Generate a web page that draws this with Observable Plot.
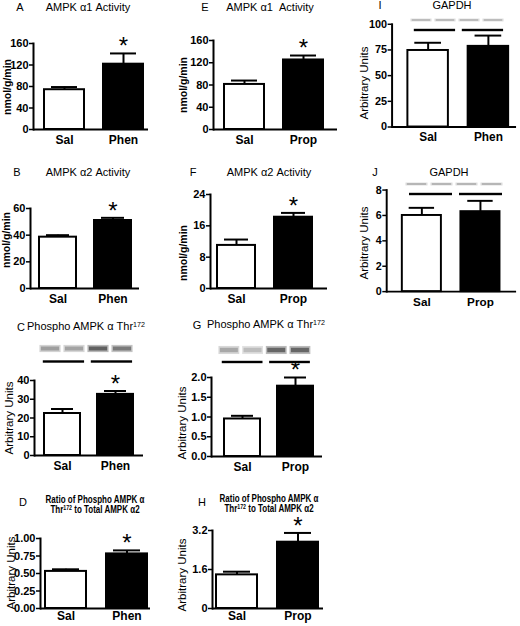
<!DOCTYPE html>
<html><head><meta charset="utf-8">
<script src="https://cdn.jsdelivr.net/npm/d3@7"></script>
<script src="https://cdn.jsdelivr.net/npm/@observablehq/plot@0.6"></script>
<style>
html,body{margin:0;padding:0;background:#fff;}
#fig{position:relative;width:520px;height:626px;overflow:hidden;font-family:"Liberation Sans",Arial,sans-serif;color:#000;}
.box{position:absolute;}
.t{position:absolute;white-space:nowrap;transform:translate(-50%,-50%);font-size:11px;line-height:1;}
.lt{position:absolute;white-space:nowrap;transform:translate(-50%,-50%);font-size:11px;line-height:1;}
.t2{position:absolute;white-space:nowrap;transform:translate(-50%,-50%) scaleX(0.8);font-family:"Liberation Sans",Arial,sans-serif;font-weight:bold;font-size:10px;line-height:9.5px;text-align:center;}
.ylab{position:absolute;white-space:nowrap;transform:translate(-50%,-50%) rotate(-90deg);font-size:11.5px;line-height:1;}
.ylab.b{font-weight:bold;font-size:10.5px;}
sup{font-size:0.65em;vertical-align:0;position:relative;top:-0.45em;}
</style></head><body><div id="fig"></div>
<script>
// ---------- data ----------
const salPhen = ["Sal", "Phen"];
const salProp = ["Sal", "Prop"];
const significant = [false, true];
const notSignificant = [false, false];

// A: AMPK α1 activity (phenylephrine)
const a1PhenMean = [74, 121.5];
const a1PhenErr = [5, 20];
// B: AMPK α2 activity (phenylephrine)
const a2PhenMean = [38.5, 51];
const a2PhenErr = [1.5, 2];
// C: phospho AMPK α Thr172 (phenylephrine)
const pPhenMean = [22.4, 32.6];
const pPhenErr = [2.4, 1.8];
// D: ratio phospho / total α2 (phenylephrine)
const ratioPhenMean = [0.53, 0.78];
const ratioPhenErr = [0.03, 0.05];
// E: AMPK α1 activity (propranolol)
const a1PropMean = [81, 125];
const a1PropErr = [7, 8];
// F: AMPK α2 activity (propranolol)
const a2PropMean = [11, 18.2];
const a2PropErr = [1.5, 1.1];
// G: phospho AMPK α Thr172 (propranolol)
const pPropMean = [0.95, 1.78];
const pPropErr = [0.08, 0.22];
// H: ratio phospho / total α2 (propranolol)
const ratioPropMean = [1.38, 2.72];
const ratioPropErr = [0.13, 0.38];
// I: GAPDH (phenylephrine)
const gapdhPhenMean = [74.5, 78.5];
const gapdhPhenErr = [7.5, 10.5];
// J: GAPDH (propranolol)
const gapdhPropMean = [6.0, 6.3];
const gapdhPropErr = [0.6, 0.85];

// tick values
const ticksA = [0, 40, 80, 120, 160];
const ticksB = [0, 20, 40, 60];
const ticksC = [0, 10, 20, 30, 40];
const ticksD = [0, 0.25, 0.5, 0.75, 1.0];
const ticksE = [0, 40, 80, 120, 160];
const ticksF = [0, 8, 16, 24];
const ticksG = [0, 0.5, 1.0, 1.5, 2.0];
const ticksH = [0, 1.6, 3.2];
const ticksI = [0, 25, 50, 75, 100];
const ticksJ = [0, 2, 4, 6, 8];

// western blot lanes (band darkness 0..1)
const blotLanes = [1, 2, 3, 4];
const blotGroups = [{label: "Sal", from: 1, to: 2}, {label: "Treat", from: 3, to: 4}];
const blotC = [0.38, 0.36, 0.62, 0.52];
const blotG = [0.34, 0.26, 0.6, 0.6];
const blotI = [0.3, 0.3, 0.3, 0.3];
const blotJ = [0.32, 0.32, 0.32, 0.32];

// ---------- drawing ----------
const fig = document.getElementById("fig");
const FONT = "Liberation Sans, Arial, sans-serif";

function html(cls, x, y, content) {
  const d = document.createElement("div");
  d.className = cls;
  d.style.left = x + "px";
  d.style.top = y + "px";
  d.innerHTML = content;
  fig.appendChild(d);
}

function barPanel(o) {
  const mL = 34, mR = 4, mT = 18, mB = 24;
  const rows = o.groups.map((g, i) => ({
    g, m: o.mean[i], hi: o.mean[i] + o.err[i], fill: i === 0 ? "white" : "black", star: o.star[i]
  }));
  const W = o.R - o.L + mL + mR, H = o.B - o.T + mT + mB;
  const svg = Plot.plot({
    width: W, height: H,
    marginLeft: mL, marginRight: mR, marginTop: mT, marginBottom: mB,
    style: {background: "transparent", overflow: "visible", fontFamily: FONT, color: "black"},
    x: {type: "band", domain: o.groups, range: [o.bars[0] - o.L + mL, o.bars[1] - o.L + mL], paddingInner: 0.33, paddingOuter: 0, label: null},
    y: {domain: [0, o.ticks[o.ticks.length - 1]], label: null},
    color: {type: "identity"},
    marks: [
      Plot.ruleX(rows, {x: "g", y1: "m", y2: "hi", strokeWidth: 2}),
      Plot.tickY(rows, {x: "g", y: "hi", strokeWidth: 2, insetLeft: 7, insetRight: 7}),
      Plot.barY(rows, {x: "g", y: "m", fill: "fill", stroke: "black", strokeWidth: 2}),
      Plot.text(rows.filter(d => d.star), {x: "g", y: "hi", text: () => "*", fontSize: 24, lineAnchor: "middle", dy: -7}),
      Plot.ruleY([0], {strokeWidth: 2}),
      Plot.frame({anchor: "left", strokeWidth: 2}),
      Plot.axisY({ticks: o.ticks, tickFormat: o.fmt, tickSize: 4, tickPadding: 1, fontSize: 11, fontWeight: "bold", label: null, strokeWidth: 1.5}),
      Plot.axisX({tickSize: 0, tickPadding: o.xpad ?? 6, fontSize: 12, fontWeight: "bold", label: null})
    ]
  });
  const box = document.createElement("div");
  box.className = "box";
  box.style.left = (o.L - mL) + "px";
  box.style.top = (o.T - mT) + "px";
  box.appendChild(svg);
  fig.appendChild(box);
}

function blotPanel(o) {
  // o.x0: left edge, o.step: px per lane, o.yBand: center of bands, o.yLine: center of underline
  const W = o.step * 4, rowH = o.yLine - o.yBand, H = rowH * 2;
  const lanes = blotLanes.map((l, i) => ({lane: l, d: o.dens[i]}));
  const grey = v => { const c = Math.round(255 * (1 - v)); return `rgb(${c},${c},${c})`; };
  const svg = Plot.plot({
    width: W, height: H, margin: 0,
    style: {background: "transparent", overflow: "visible"},
    x: {domain: [0.5, 4.5], axis: null},
    y: {type: "band", domain: ["band", "line"], padding: 0, axis: null},
    color: {type: "identity"},
    marks: [
      Plot.barX(lanes, {x1: d => d.lane - 0.44, x2: d => d.lane + 0.44, y: () => "band",
        fill: d => grey(d.d * 0.45), insetTop: rowH / 2 - o.bandH * 0.9, insetBottom: rowH / 2 - o.bandH * 0.9}),
      Plot.barX(lanes, {x1: d => d.lane - 0.38, x2: d => d.lane + 0.38, y: () => "band",
        fill: d => grey(d.d), insetTop: rowH / 2 - o.bandH / 2, insetBottom: rowH / 2 - o.bandH / 2}),
      Plot.barX(blotGroups, {x1: d => d.from - 0.3, x2: d => d.to + 0.42, y: () => "line",
        fill: "black", insetTop: rowH / 2 - 1.2, insetBottom: rowH / 2 - 1.2})
    ]
  });
  svg.querySelectorAll('g[aria-label="bar"]').forEach((g, i) => { if (i < 2) g.style.filter = "blur(0.7px)"; });
  const box = document.createElement("div");
  box.className = "box";
  box.style.left = o.x0 + "px";
  box.style.top = (o.yBand - rowH / 2) + "px";
  box.appendChild(svg);
  fig.appendChild(box);
}

const f2 = d => d.toFixed(2), f1 = d => d.toFixed(1), f0 = d => String(d);

// Column 1 (phenylephrine)
barPanel({groups: salPhen, mean: a1PhenMean, err: a1PhenErr, star: significant, ticks: ticksA, fmt: f0, L: 33, T: 43, B: 129, R: 148, bars: [43, 143]});
html("lt", 20, 7, "A"); html("t", 88, 7, "AMPK α1 Activity"); html("ylab b", 7, 87, "nmol/g/min");

barPanel({groups: salPhen, mean: a2PhenMean, err: a2PhenErr, star: significant, ticks: ticksB, fmt: f0, L: 30, T: 208, B: 288, R: 139, bars: [38, 131]});
html("lt", 17, 172, "B"); html("t", 88, 172, "AMPK α2 Activity"); html("ylab b", 6, 240, "nmol/g/min");

blotPanel({x0: 38, step: 24, yBand: 348, yLine: 361, bandH: 4, dens: blotC});
barPanel({groups: salPhen, mean: pPhenMean, err: pPhenErr, star: significant, ticks: ticksC, fmt: f0, L: 34, T: 380, B: 455, R: 143, bars: [43, 133]});
html("lt", 21, 327, "C"); html("t", 86, 327, "Phospho AMPK α Thr<sup>172</sup>"); html("ylab", 10, 418, "Arbitrary Units");

barPanel({groups: salPhen, mean: ratioPhenMean, err: ratioPhenErr, star: significant, ticks: ticksD, fmt: f2, L: 40, T: 538, B: 608, R: 150, bars: [44, 147], xpad: 3});
html("lt", 23, 502, "D"); html("t2", 95, 505, "Ratio of Phospho AMPK α<br>Thr<sup>172</sup> to Total AMPK α2"); html("ylab", 12, 573, "Arbitrary Units");

// Column 2 (propranolol)
barPanel({groups: salProp, mean: a1PropMean, err: a1PropErr, star: significant, ticks: ticksE, fmt: f0, L: 213, T: 40, B: 129, R: 337, bars: [224, 323]});
html("lt", 205, 7, "E"); html("t", 270, 7, "AMPK α1&nbsp; Activity"); html("ylab b", 183, 85, "nmol/g/min");

barPanel({groups: salProp, mean: a2PropMean, err: a2PropErr, star: significant, ticks: ticksF, fmt: f0, L: 210, T: 194, B: 288, R: 327, bars: [217, 313]});
html("lt", 193, 172, "F"); html("t", 269, 172, "AMPK α2 Activity"); html("ylab b", 183, 253, "nmol/g/min");

blotPanel({x0: 217, step: 23.7, yBand: 350, yLine: 362, bandH: 4.5, dens: blotG});
barPanel({groups: salProp, mean: pPropMean, err: pPropErr, star: significant, ticks: ticksG, fmt: f1, L: 211, T: 377, B: 456, R: 322, bars: [223, 313]});
html("lt", 197, 325, "G"); html("t", 266, 325, "Phospho AMPK α Thr<sup>172</sup>"); html("ylab", 183, 423, "Arbitrary Units");

barPanel({groups: salProp, mean: ratioPropMean, err: ratioPropErr, star: significant, ticks: ticksH, fmt: f0, L: 212, T: 530, B: 608, R: 323, bars: [215, 318], xpad: 3});
html("lt", 202, 502, "H"); html("t2", 269, 504, "Ratio of Phospho AMPK α<br>Thr<sup>172</sup> to Total AMPK α2"); html("ylab", 183, 575, "Arbitrary Units");

// Column 3 (GAPDH loading controls)
blotPanel({x0: 409, step: 24, yBand: 20, yLine: 30, bandH: 1.6, dens: blotI});
barPanel({groups: salPhen, mean: gapdhPhenMean, err: gapdhPhenErr, star: notSignificant, ticks: ticksI, fmt: f0, L: 392, T: 24, B: 128, R: 518, bars: [408, 510]});
html("lt", 380, 5, "I"); html("t", 452, 5, "GAPDH"); html("ylab", 365, 83, "Arbitrary Units");

blotPanel({x0: 404, step: 25, yBand: 184, yLine: 194, bandH: 1.6, dens: blotJ});
barPanel({groups: salProp, mean: gapdhPropMean, err: gapdhPropErr, star: notSignificant, ticks: ticksJ, fmt: f0, L: 387, T: 190, B: 294, R: 520, bars: [403, 504]});
html("lt", 375, 172, "J"); html("t", 449, 172, "GAPDH"); html("ylab", 365, 243, "Arbitrary Units");
</script>
</body></html>
